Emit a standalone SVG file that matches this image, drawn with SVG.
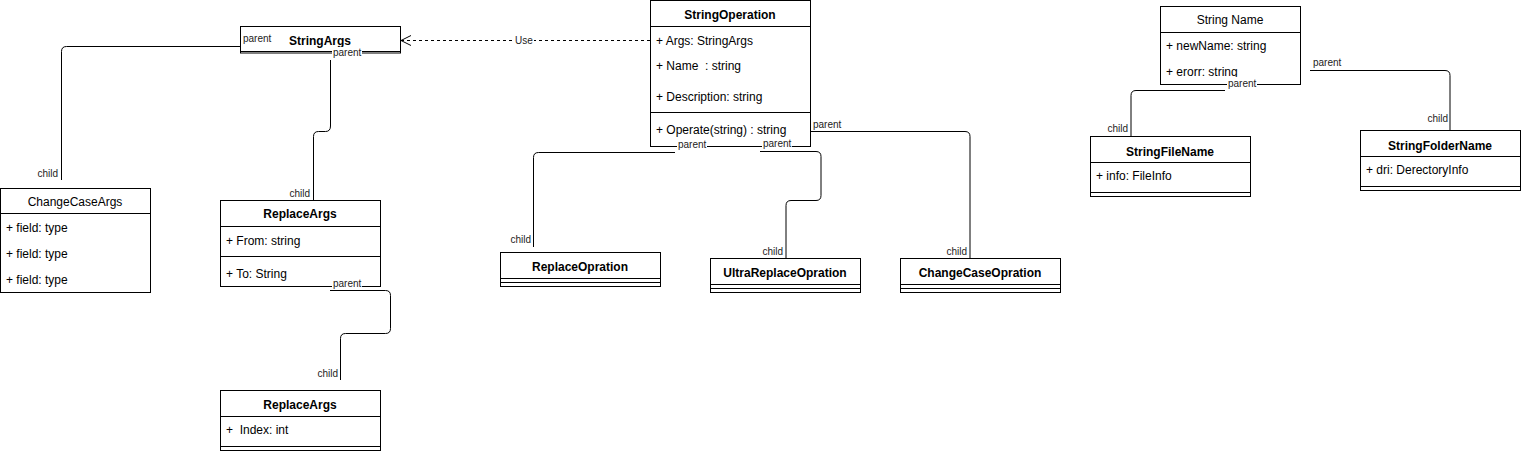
<svg xmlns="http://www.w3.org/2000/svg" width="1521" height="451" viewBox="0 0 1521 451">
<style>
  .box{fill:#fff;stroke:#000;stroke-width:1}
  .ln{stroke:#000;stroke-width:1;fill:none}
  .t{font-family:"Liberation Sans",Arial,Helvetica,sans-serif;font-size:12px;fill:#000}
  .b{font-weight:bold}
  .c{text-anchor:middle}
  .f{white-space:pre}
  .lbl{font-family:"Liberation Sans",Arial,Helvetica,sans-serif;font-size:10px;fill:#222}
  .r{text-anchor:end}
  .bg{fill:#fff;stroke:none}
  .edge{stroke:#000;stroke-width:1;fill:none}
  .dash{stroke-dasharray:3 3}
</style>
<defs>
  <marker id="openArrow" markerUnits="userSpaceOnUse" markerWidth="12" markerHeight="12" refX="10" refY="5" orient="auto" viewBox="0 0 12 12">
    <path d="M0,0 L10,5 L0,10" fill="none" stroke="#000" stroke-width="1"/>
  </marker>
</defs>

<g id="nodes">
  <g id="StringArgs">
    <rect class="box" x="240.5" y="26.5" width="160" height="26.5"/>
    <line class="ln" x1="240.5" y1="51.5" x2="400.5" y2="51.5"/>
    <text class="t b c" x="320" y="45">StringArgs</text>
  </g>
  <g id="ChangeCaseArgs">
    <rect class="box" x="0.5" y="188.5" width="150" height="104"/>
    <line class="ln" x1="0.5" y1="213.5" x2="150.5" y2="213.5"/>
    <text class="t c" x="75" y="206">ChangeCaseArgs</text>
    <text class="t" x="6" y="231.5">+ field: type</text>
    <text class="t" x="6" y="257.5">+ field: type</text>
    <text class="t" x="6" y="283.5">+ field: type</text>
  </g>
  <g id="ReplaceArgs1">
    <rect class="box" x="220.5" y="200.5" width="160" height="86"/>
    <line class="ln" x1="220.5" y1="226.5" x2="380.5" y2="226.5"/>
    <line class="ln" x1="220.5" y1="256.5" x2="380.5" y2="256.5"/>
    <text class="t b c" x="300" y="218">ReplaceArgs</text>
    <text class="t" x="226" y="244.5">+ From: string</text>
    <text class="t" x="226" y="277.5">+ To: String</text>
  </g>
  <g id="ReplaceArgs2">
    <rect class="box" x="220.5" y="390.5" width="160" height="60"/>
    <line class="ln" x1="220.5" y1="416.5" x2="380.5" y2="416.5"/>
    <line class="ln" x1="220.5" y1="446.5" x2="380.5" y2="446.5"/>
    <text class="t b c" x="300" y="408.5">ReplaceArgs</text>
    <text class="t f" x="226" y="434" xml:space="preserve">+  Index: int</text>
  </g>
  <g id="StringOperation">
    <rect class="box" x="650.5" y="0.5" width="160" height="146"/>
    <line class="ln" x1="650.5" y1="26.5" x2="810.5" y2="26.5"/>
    <line class="ln" x1="650.5" y1="112.5" x2="810.5" y2="112.5"/>
    <text class="t b c" x="730" y="18.5">StringOperation</text>
    <text class="t" x="656" y="45">+ Args: StringArgs</text>
    <text class="t f" x="656" y="70" xml:space="preserve">+ Name  : string</text>
    <text class="t" x="656" y="101">+ Description: string</text>
    <text class="t" x="656" y="133.5">+ Operate(string) : string</text>
  </g>
  <g id="ReplaceOpration">
    <rect class="box" x="500.5" y="252.5" width="160" height="34"/>
    <line class="ln" x1="500.5" y1="278.5" x2="660.5" y2="278.5"/>
    <line class="ln" x1="500.5" y1="282.5" x2="660.5" y2="282.5"/>
    <text class="t b c" x="580" y="271">ReplaceOpration</text>
  </g>
  <g id="UltraReplaceOpration">
    <rect class="box" x="710.5" y="258.5" width="150" height="34"/>
    <line class="ln" x1="710.5" y1="284.5" x2="860.5" y2="284.5"/>
    <line class="ln" x1="710.5" y1="288.5" x2="860.5" y2="288.5"/>
    <text class="t b c" x="785" y="277">UltraReplaceOpration</text>
  </g>
  <g id="ChangeCaseOpration">
    <rect class="box" x="900.5" y="258.5" width="160" height="34"/>
    <line class="ln" x1="900.5" y1="284.5" x2="1060.5" y2="284.5"/>
    <line class="ln" x1="900.5" y1="288.5" x2="1060.5" y2="288.5"/>
    <text class="t b c" x="980" y="277">ChangeCaseOpration</text>
  </g>
  <g id="StringName">
    <rect class="box" x="1160.5" y="6.5" width="140" height="78"/>
    <line class="ln" x1="1160.5" y1="32.5" x2="1300.5" y2="32.5"/>
    <text class="t c" x="1230" y="24">String Name</text>
    <text class="t" x="1166" y="50">+ newName: string</text>
    <text class="t" x="1166" y="76">+ erorr: string</text>
  </g>
  <g id="StringFileName">
    <rect class="box" x="1090.5" y="136.5" width="160" height="60"/>
    <line class="ln" x1="1090.5" y1="162.5" x2="1250.5" y2="162.5"/>
    <line class="ln" x1="1090.5" y1="192.5" x2="1250.5" y2="192.5"/>
    <text class="t b c" x="1170" y="156">StringFileName</text>
    <text class="t" x="1096" y="180">+ info: FileInfo</text>
  </g>
  <g id="StringFolderName">
    <rect class="box" x="1360.5" y="130.5" width="160" height="60"/>
    <line class="ln" x1="1360.5" y1="156.5" x2="1520.5" y2="156.5"/>
    <line class="ln" x1="1360.5" y1="186.5" x2="1520.5" y2="186.5"/>
    <text class="t b c" x="1440" y="150">StringFolderName</text>
    <text class="t" x="1366" y="174">+ dri: DerectoryInfo</text>
  </g>
</g>

<g id="connectors">
  <!-- StringOperation uses StringArgs -->
  <path class="edge dash" d="M650,40.5 H401" marker-end="url(#openArrow)"/>
  <rect class="bg" x="514" y="34" width="20" height="12"/>
  <text class="lbl" x="515" y="44">Use</text>

  <!-- StringArgs -> ChangeCaseArgs -->
  <path class="edge" d="M240,46.5 H66.5 Q61.5,46.5 61.5,51.5 V180"/>
  <rect class="bg" x="242" y="33" width="29" height="12"/>
  <text class="lbl" x="243" y="42">parent</text>
  <rect class="bg" x="36" y="167" width="23" height="12"/>
  <text class="lbl r" x="58" y="177">child</text>

  <!-- StringArgs -> ReplaceArgs -->
  <path class="edge" d="M330.5,60 V126 Q330.5,131.5 325.5,131.5 H318.5 Q313.5,131.5 313.5,136.5 V200"/>
  <rect class="bg" x="332" y="47" width="30" height="12"/>
  <text class="lbl" x="333" y="56">parent</text>
  <rect class="bg" x="288" y="187" width="23" height="12"/>
  <text class="lbl r" x="310" y="197">child</text>

  <!-- ReplaceArgs -> ReplaceArgs -->
  <path class="edge" d="M330,290.5 H385.5 Q390.5,290.5 390.5,295.5 V328.5 Q390.5,333.5 385.5,333.5 H345.5 Q340.5,333.5 340.5,338.5 V380"/>
  <rect class="bg" x="332" y="277" width="30" height="12"/>
  <text class="lbl" x="333" y="286.5">parent</text>
  <rect class="bg" x="316" y="367" width="23" height="12"/>
  <text class="lbl r" x="338" y="377">child</text>

  <!-- StringOperation -> ReplaceOpration -->
  <path class="edge" d="M675,152.5 H538.5 Q533.5,152.5 533.5,157.5 V247"/>
  <rect class="bg" x="677" y="140" width="30" height="11"/>
  <text class="lbl" x="678" y="148">parent</text>
  <rect class="bg" x="509" y="233" width="23" height="12"/>
  <text class="lbl r" x="531" y="243">child</text>

  <!-- StringOperation -> UltraReplaceOpration -->
  <path class="edge" d="M760,151.5 H816 Q821,151.5 821,156.5 V195.5 Q821,200.5 816,200.5 H791 Q786,200.5 786,205.5 V258"/>
  <rect class="bg" x="762" y="138" width="30" height="11"/>
  <text class="lbl" x="763" y="146.5">parent</text>
  <rect class="bg" x="761" y="245" width="23" height="12"/>
  <text class="lbl r" x="783" y="254.5">child</text>

  <!-- StringOperation -> ChangeCaseOpration -->
  <path class="edge" d="M810,131.5 H965 Q970,131.5 970,136.5 V258"/>
  <rect class="bg" x="812" y="118" width="30" height="12"/>
  <text class="lbl" x="813" y="127.5">parent</text>
  <rect class="bg" x="945" y="245" width="23" height="12"/>
  <text class="lbl r" x="967" y="254.5">child</text>

  <!-- StringName -> StringFileName -->
  <path class="edge" d="M1225,90.5 H1136 Q1131,90.5 1131,95.5 V136"/>
  <rect class="bg" x="1227" y="77" width="30" height="12"/>
  <text class="lbl" x="1228" y="86.5">parent</text>
  <rect class="bg" x="1106" y="122" width="23" height="12"/>
  <text class="lbl r" x="1128" y="131.5">child</text>

  <!-- StringName -> StringFolderName -->
  <path class="edge" d="M1310,70.5 H1445 Q1450,70.5 1450,75.5 V130"/>
  <rect class="bg" x="1312" y="57" width="30" height="12"/>
  <text class="lbl" x="1313" y="66">parent</text>
  <rect class="bg" x="1426" y="112" width="23" height="12"/>
  <text class="lbl r" x="1448" y="121.5">child</text>
</g>
</svg>
